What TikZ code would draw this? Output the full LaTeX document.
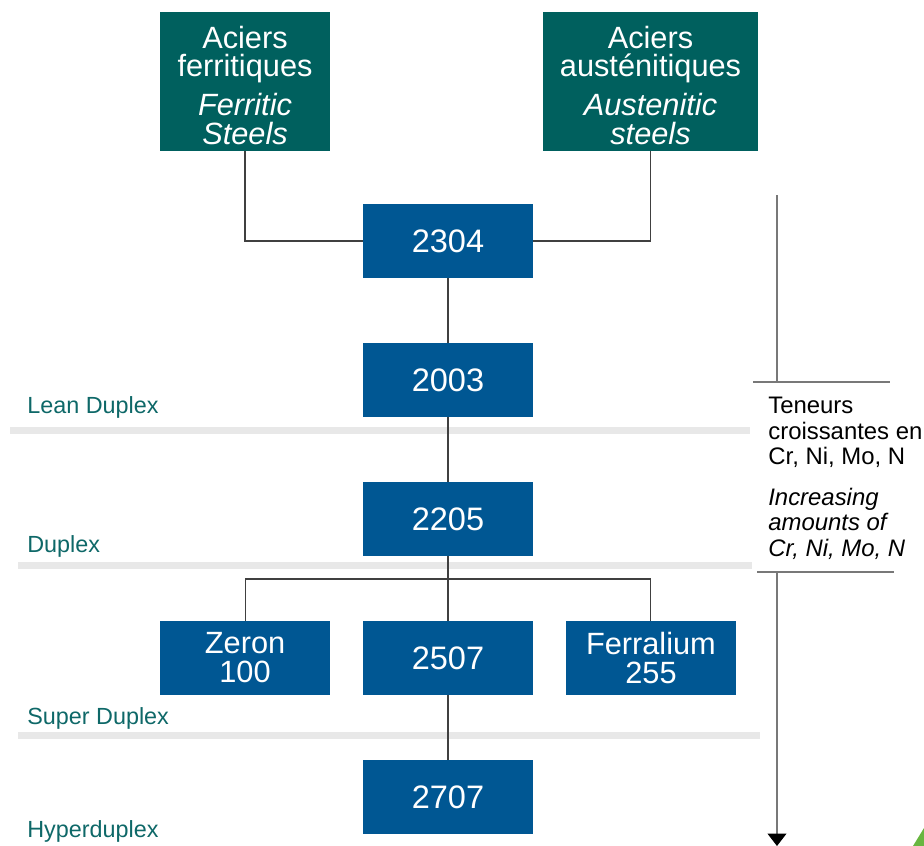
\documentclass[tikz,border=0pt]{standalone}
\usepackage{fontspec}
\setmainfont{Liberation Sans}
\usetikzlibrary{arrows.meta,positioning}
\definecolor{ferrteal}{RGB}{0,96,94}
\definecolor{gradeblue}{RGB}{0,87,147}
\definecolor{bandgrey}{RGB}{232,232,232}
\definecolor{tiertext}{RGB}{14,104,104}
\definecolor{rulegrey}{RGB}{120,120,120}
\definecolor{logo}{RGB}{104,182,64}
\tikzset{
  tile/.style={fill=#1, text=white, align=center, inner sep=0pt, outer sep=0pt},
  family/.style={tile=ferrteal, minimum height=2.78cm, font=\fontsize{17.5}{16}\selectfont},
  grade/.style={tile=gradeblue, minimum width=3.4cm, minimum height=1.48cm, font=\fontsize{18.5}{16.5}\selectfont},
  link/.style={draw=black!75, line width=0.6pt},
  band/.style={fill=bandgrey},
  tier/.style={text=tiertext, font=\fontsize{13.3}{14}\selectfont, inner sep=0pt, anchor=base west},
  note/.style={align=left, font=\fontsize{13.6}{14.4}\selectfont, inner sep=0pt, anchor=north west},
  gauge/.style={draw=rulegrey, line width=0.6pt},
}

\begin{document}
\begin{tikzpicture}[x=0.02cm, y=-0.02cm]
  \useasboundingbox (0,0) rectangle (924,846);
  % grey bands between the families
  \fill[band] (10,427) rectangle (750,434);
  \fill[band] (18,562) rectangle (752,569);
  \fill[band] (18,732) rectangle (760,739);
  \node[tier] (lean) at (27,413) {Lean Duplex};
  \node[tier] (duplex) at (27,552) {Duplex};
  \node[tier] (super) at (27,724) {Super Duplex};
  \node[tier] (hyper) at (27,837) {Hyperduplex};
  % parents
  \node[family, minimum width=3.4cm] (ferritic) at (245,81.5) {\rule{0pt}{17pt}Aciers\\ferritiques\\[5pt]\textit{Ferritic}\\\textit{Steels}};
  \node[family, minimum width=4.3cm] (austenitic) at (650.5,81.5) {\rule{0pt}{17pt}Aciers\\austénitiques\\[5pt]\textit{Austenitic}\\\textit{steels}};
  % grades
  \node[grade] (g2304) at (448,241) {2304};
  \node[grade, below=1.3cm of g2304] (g2003) {2003};
  \node[grade, below=1.3cm of g2003] (g2205) {2205};
  \node[grade, below=1.3cm of g2205] (g2507) {2507};
  \node[grade, left=0.66cm of g2507, font=\fontsize{17.5}{16.5}\selectfont] (zeron) {Zeron\\100};
  \node[grade, right=0.66cm of g2507, font=\fontsize{17.5}{16.5}\selectfont] (ferralium) {Ferralium\\255};
  \node[grade, below=1.3cm of g2507] (g2707) {2707};
  \coordinate (fork) at (448,579);
  \draw[link] (ferritic.south) |- (g2304.west);
  \draw[link] (austenitic.south) |- (g2304.east);
  \draw[link] (g2304) -- (g2003);
  \draw[link] (g2003) -- (g2205);
  \draw[link] (g2205) -- (g2507);
  \draw[link] (g2507) -- (g2707);
  \draw[link] (zeron.north) |- (fork) -| (ferralium.north);
  % trend scale on the right
  \coordinate (gtop) at (777,195);
  \coordinate (gmid) at (777,382);
  \coordinate (glow) at (777,572);
  \coordinate (gtip) at (777,846);
  \draw[gauge] (gtop) -- (gmid);
  \draw[gauge] (753,382) -- (890,382);
  \draw[gauge] (757,572) -- (894,572);
  \draw[gauge, -{Triangle[length=0.25cm, width=0.38cm, black]}] (glow) -- (gtip);
  \node[note] (teneurs) at (768,397) {Teneurs\\croissantes en\\Cr, Ni, Mo, N};
  \node[note, font=\fontsize{13.6}{14.4}\selectfont\itshape] (amounts) at (768,488) {Increasing\\amounts of\\Cr, Ni, Mo, N};
  \fill[logo] (913,846) -- (924,828) -- (924,846) -- cycle;
\end{tikzpicture}
\end{document}
